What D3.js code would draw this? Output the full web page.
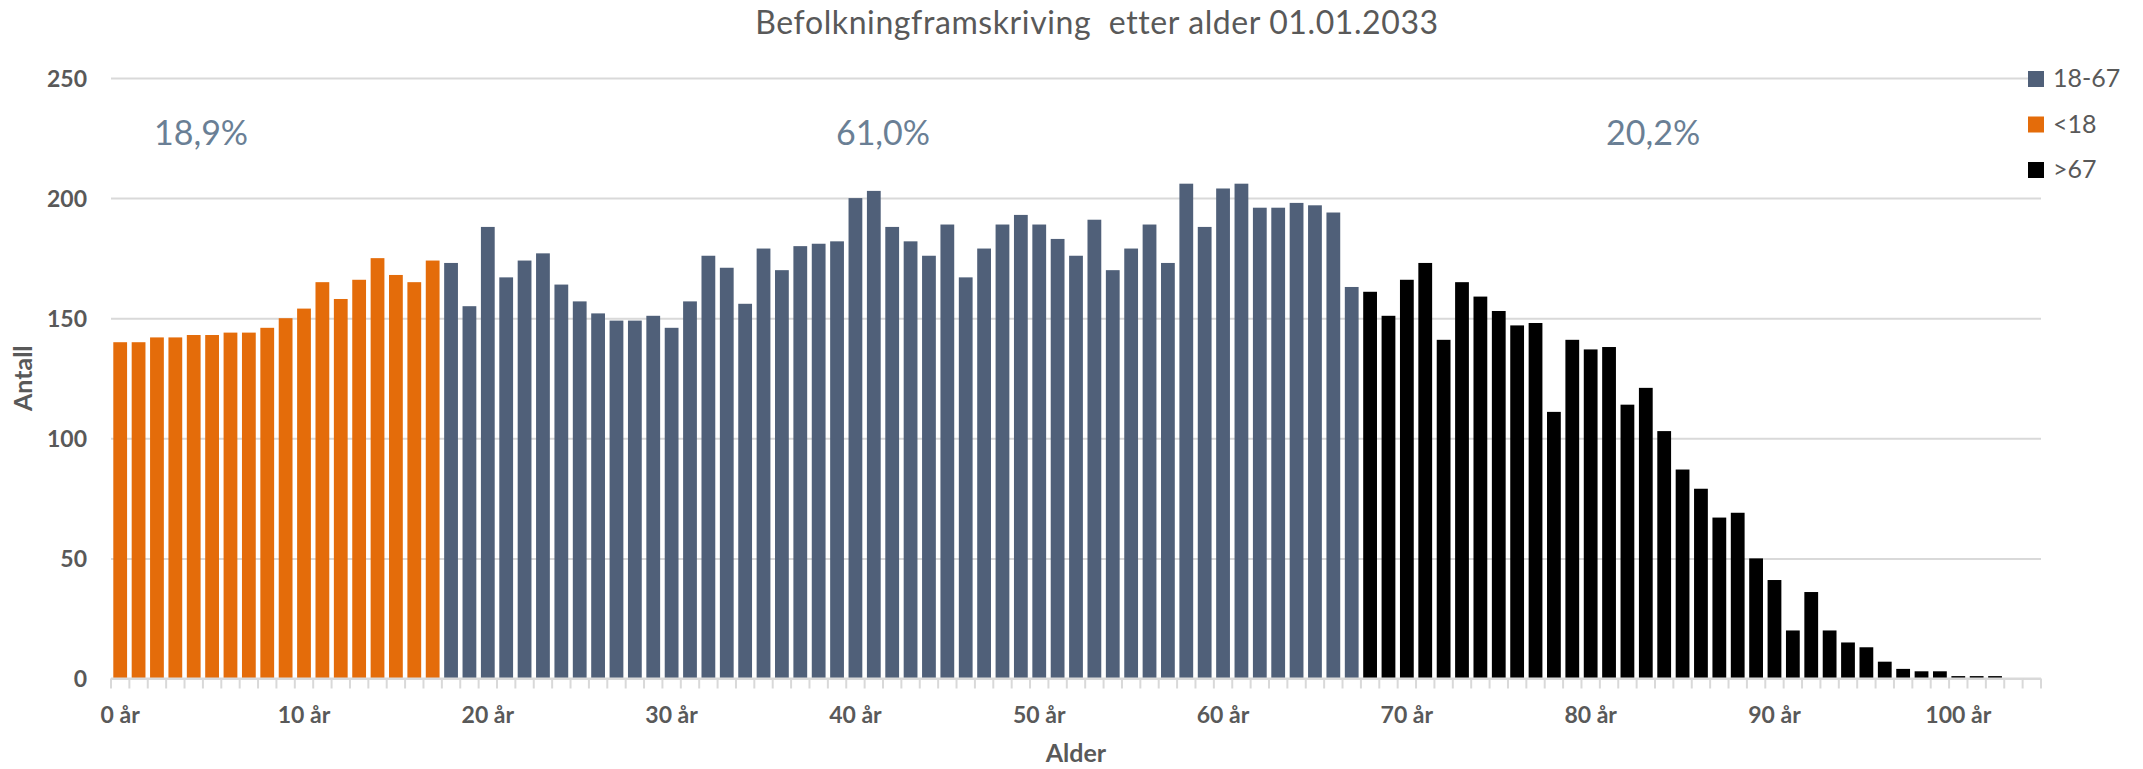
<!DOCTYPE html>
<html>
<head>
<meta charset="utf-8">
<script src="https://cdn.jsdelivr.net/npm/d3@7"></script>
<style>
  html, body { margin: 0; padding: 0; background: #ffffff; }
  svg { display: block; }
  text { font-family: Lato, "Open Sans", "DejaVu Sans", sans-serif; }
</style>
</head>
<body>
<svg id="chart" width="2143" height="769"></svg>
<script>
// ---------------- DATA ----------------
const titleText = "Befolkningframskriving  etter alder 01.01.2033";
const seriesNames = ["18-67", "<18", ">67"];
const seriesColors = ["#506079", "#E46C0A", "#000000"];

// ages 0-17
const under18 = [140, 140, 142, 142, 143, 143, 144, 144, 146, 150, 154, 165, 158, 166, 175, 168, 165, 174];
// ages 18-67
const age18to67 = [173, 155, 188, 167, 174, 177, 164, 157, 152, 149, 149, 151, 146, 157, 176, 171, 156, 179, 170, 180,
                   181, 182, 200, 203, 188, 182, 176, 189, 167, 179, 189, 193, 189, 183, 176, 191, 170, 179, 189, 173,
                   206, 188, 204, 206, 196, 196, 198, 197, 194, 163];
// ages 68-104
const over67 = [161, 151, 166, 173, 141, 165, 159, 153, 147, 148, 111, 141, 137, 138, 114, 121, 103, 87, 79, 67,
                69, 50, 41, 20, 36, 20, 15, 13, 7, 4, 3, 3, 1, 1, 1, 0, 0];

const xTickLabels = ["0 år", "10 år", "20 år", "30 år", "40 år", "50 år", "60 år", "70 år", "80 år", "90 år", "100 år"];
const yTicks = [0, 50, 100, 150, 200, 250];

const shareLabels = ["18,9%", "61,0%", "20,2%"];
const sharePosAge = [4.9, 42.0, 83.9];   // position along age axis (continuous)
const sharePosVal = [222, 222, 222];

// ---------------- BUILD ----------------
const rows = [];
under18.forEach((v, i) => rows.push({ age: i, value: v, s: 1 }));
age18to67.forEach((v, i) => rows.push({ age: 18 + i, value: v, s: 0 }));
over67.forEach((v, i) => rows.push({ age: 68 + i, value: v, s: 2 }));
const ages = rows.map(d => d.age);

const svg = d3.select("#chart");
const X0 = 111, X1 = 2041, Y0 = 678.5, Y1 = 78;

const x = d3.scaleBand().domain(ages).range([X0, X1]).paddingInner(0.25).paddingOuter(0.125);
const xc = d3.scaleLinear().domain([0, ages.length]).range([X0, X1]);
const y = d3.scaleLinear().domain([0, 250]).range([Y0, Y1]);

const textGray = "#595959";
const gridGray = "#d9d9d9";

// gridlines + y labels
const yAxis = d3.axisLeft(y).tickValues(yTicks).tickSize(-(X1 - X0)).tickPadding(24);
const gy = svg.append("g").attr("transform", `translate(${X0},0)`).call(yAxis);
gy.select(".domain").remove();
gy.selectAll(".tick line").attr("stroke", gridGray).attr("stroke-width", 2);
gy.selectAll(".tick text")
  .attr("fill", textGray).attr("font-size", 23).attr("font-weight", "bold")
  .attr("x", 87 - X0).attr("dy", "0.36em");

// bars
svg.append("g").selectAll("rect").data(rows).join("rect")
  .attr("x", d => x(d.age))
  .attr("width", x.bandwidth())
  .attr("y", d => y(d.value))
  .attr("height", d => Y0 - y(d.value))
  .attr("fill", d => seriesColors[d.s]);

// x axis line and category boundary ticks
const gx = svg.append("g");
gx.append("line").attr("x1", X0).attr("x2", X1).attr("y1", Y0).attr("y2", Y0)
  .attr("stroke", gridGray).attr("stroke-width", 2);
gx.selectAll("line.tk").data(d3.range(ages.length + 1)).join("line").attr("class", "tk")
  .attr("x1", i => xc(i)).attr("x2", i => xc(i))
  .attr("y1", Y0).attr("y2", Y0 + 10)
  .attr("stroke", gridGray).attr("stroke-width", 2);

const xAxis = d3.axisBottom(x)
  .tickValues(xTickLabels.map((t, i) => i * 10))
  .tickFormat((d, i) => xTickLabels[i])
  .tickSize(0).tickPadding(28);
const gxa = svg.append("g").attr("transform", `translate(0,${Y0})`).call(xAxis);
gxa.select(".domain").remove();
gxa.selectAll(".tick text").attr("fill", textGray).attr("font-size", 23).attr("font-weight", "bold");

// axis titles
svg.append("text").attr("x", (X0 + X1) / 2).attr("y", 762)
  .attr("text-anchor", "middle").attr("fill", textGray)
  .attr("font-size", 25).attr("font-weight", "bold").text("Alder");
svg.append("text").attr("transform", `translate(32,${(Y0 + Y1) / 2}) rotate(-90)`)
  .attr("text-anchor", "middle").attr("fill", textGray)
  .attr("font-size", 25).attr("font-weight", "bold").text("Antall");

// title
svg.append("text").attr("x", 1097).attr("y", 34)
  .attr("text-anchor", "middle").attr("fill", textGray)
  .attr("font-size", 32).attr("letter-spacing", 0.6)
  .attr("xml:space", "preserve").style("white-space", "pre").text(titleText);

// share labels
svg.append("g").selectAll("text").data(shareLabels).join("text")
  .attr("x", (d, i) => xc(sharePosAge[i]))
  .attr("y", (d, i) => y(sharePosVal[i]))
  .attr("text-anchor", "middle").attr("fill", "#6a7f95")
  .attr("font-size", 34).text(d => d);

// legend
const lg = svg.append("g").selectAll("g").data(seriesNames).join("g")
  .attr("transform", (d, i) => `translate(2028,${71 + i * 45.5})`);
lg.append("rect").attr("width", 16).attr("height", 16).attr("fill", (d, i) => seriesColors[i]);
lg.append("text").attr("x", 25).attr("y", 16).attr("fill", textGray).attr("font-size", 25).text(d => d);
</script>
</body>
</html>
